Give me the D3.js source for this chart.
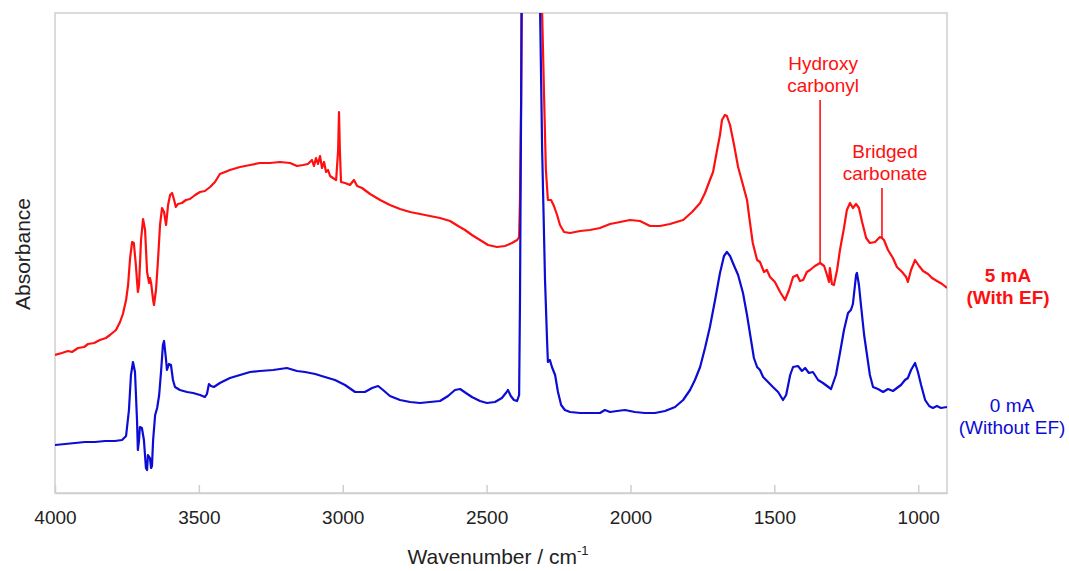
<!DOCTYPE html>
<html>
<head>
<meta charset="utf-8">
<script src="https://cdn.jsdelivr.net/npm/d3@7"></script>
<style>
  html, body { margin: 0; padding: 0; background: #fff; }
  svg { display: block; font-family: "Liberation Sans", Arial, Helvetica, sans-serif; }
</style>
</head>
<body>
<svg id="chart" width="1069" height="571"></svg>
<script>
// FTIR spectra: wavenumber (cm-1) and absorbance (offset, arbitrary units)
const withEfWavenumber = [
  4000, 3976, 3955, 3941, 3920, 3899, 3885, 3864, 3844, 3823, 3809, 3788, 3774, 3764, 3753, 3746,
  3739, 3732, 3726, 3719, 3712, 3708, 3701, 3694, 3687, 3680, 3673, 3670, 3666, 3659, 3656, 3649,
  3642, 3635, 3628, 3621, 3614, 3607, 3600, 3593, 3586, 3580, 3573, 3559, 3545, 3531, 3513, 3496,
  3479, 3461, 3444, 3427, 3409, 3392, 3357, 3322, 3288, 3253, 3218, 3183, 3159, 3138, 3121, 3107,
  3100, 3093, 3086, 3079, 3072, 3065, 3058, 3051, 3044, 3034, 3023, 3016, 3013, 3010, 3006, 2992,
  2975, 2961, 2950, 2933, 2905, 2870, 2836, 2801, 2766, 2731, 2697, 2662, 2627, 2599, 2575, 2551,
  2523, 2495, 2464, 2436, 2412, 2394, 2387, 2384, 2380, 2377, 2373, 2356, 2346, 2332, 2318, 2311,
  2307, 2300, 2294, 2287, 2276, 2266, 2255, 2245, 2231, 2210, 2175, 2141, 2106, 2071, 2036, 2002,
  1967, 1932, 1897, 1863, 1817, 1786, 1758, 1741, 1724, 1713, 1699, 1689, 1682, 1672, 1665, 1654,
  1640, 1626, 1609, 1595, 1585, 1575, 1560, 1550, 1536, 1526, 1515, 1498, 1480, 1463, 1449, 1435,
  1421, 1411, 1400, 1387, 1376, 1359, 1341, 1327, 1317, 1310, 1307, 1300, 1293, 1282, 1272, 1258,
  1248, 1237, 1227, 1216, 1206, 1195, 1181, 1168, 1150, 1133, 1126, 1119, 1105, 1088, 1074, 1056,
  1042, 1036, 1025, 1011, 997, 983, 966, 952, 935, 917, 900
];
const withEfAbsorbance = [
  1.38, 1.40, 1.42, 1.41, 1.45, 1.46, 1.49, 1.50, 1.53, 1.55, 1.58, 1.63, 1.71, 1.79, 1.93, 2.08,
  2.35, 2.51, 2.50, 2.28, 2.01, 2.08, 2.53, 2.74, 2.63, 2.21, 2.10, 2.15, 2.10, 1.93, 1.88, 2.03,
  2.33, 2.68, 2.85, 2.81, 2.68, 2.88, 2.98, 3.00, 2.93, 2.86, 2.89, 2.90, 2.93, 2.94, 2.98, 3.01,
  3.02, 3.06, 3.11, 3.19, 3.21, 3.23, 3.26, 3.28, 3.30, 3.30, 3.31, 3.30, 3.27, 3.28, 3.29, 3.33,
  3.27, 3.35, 3.29, 3.37, 3.25, 3.31, 3.21, 3.23, 3.17, 3.15, 3.13, 3.43, 3.81, 3.43, 3.11, 3.10,
  3.08, 3.13, 3.07, 3.05, 2.99, 2.93, 2.88, 2.84, 2.81, 2.79, 2.77, 2.75, 2.72, 2.67, 2.63, 2.58,
  2.53, 2.48, 2.46, 2.47, 2.50, 2.53, 2.56, 2.93, 3.93, 5.93, 6.50, 7.00, 6.00, 7.00, 6.50, 5.00,
  4.80, 3.93, 3.23, 2.93, 2.93, 2.87, 2.78, 2.68, 2.61, 2.60, 2.62, 2.63, 2.65, 2.69, 2.71, 2.73,
  2.72, 2.67, 2.67, 2.69, 2.73, 2.81, 2.90, 3.00, 3.13, 3.21, 3.43, 3.58, 3.73, 3.78, 3.77, 3.68,
  3.48, 3.26, 3.08, 2.93, 2.71, 2.50, 2.33, 2.31, 2.21, 2.23, 2.16, 2.11, 2.01, 1.93, 2.03, 2.16,
  2.18, 2.12, 2.13, 2.21, 2.23, 2.27, 2.30, 2.27, 2.18, 2.11, 2.25, 2.09, 2.08, 2.23, 2.43, 2.65,
  2.83, 2.90, 2.85, 2.89, 2.85, 2.71, 2.55, 2.50, 2.51, 2.56, 2.55, 2.53, 2.43, 2.35, 2.26, 2.21,
  2.16, 2.11, 2.23, 2.33, 2.27, 2.22, 2.19, 2.15, 2.12, 2.09, 2.05
];

const withoutEfWavenumber = [
  4000, 3965, 3930, 3896, 3861, 3826, 3792, 3767, 3753, 3743, 3736, 3729, 3722, 3715, 3712, 3708,
  3705, 3698, 3691, 3684, 3680, 3677, 3670, 3666, 3663, 3659, 3652, 3645, 3638, 3631, 3625, 3621,
  3614, 3611, 3604, 3597, 3590, 3583, 3566, 3541, 3520, 3496, 3479, 3472, 3465, 3458, 3448, 3427,
  3392, 3357, 3322, 3288, 3242, 3194, 3159, 3131, 3096, 3062, 3027, 2992, 2957, 2923, 2898, 2877,
  2860, 2836, 2801, 2766, 2731, 2697, 2662, 2634, 2610, 2592, 2572, 2551, 2523, 2499, 2471, 2447,
  2433, 2426, 2416, 2405, 2394, 2387, 2384, 2380, 2377, 2373, 2356, 2346, 2332, 2318, 2314, 2307,
  2297, 2290, 2287, 2280, 2273, 2262, 2252, 2241, 2228, 2210, 2175, 2141, 2106, 2089, 2071, 2047,
  2019, 1985, 1950, 1915, 1880, 1845, 1817, 1793, 1776, 1758, 1741, 1724, 1706, 1689, 1675, 1665,
  1654, 1644, 1626, 1609, 1595, 1585, 1571, 1560, 1550, 1539, 1522, 1505, 1487, 1470, 1459, 1445,
  1435, 1418, 1404, 1393, 1380, 1366, 1348, 1331, 1317, 1303, 1286, 1272, 1258, 1244, 1234, 1227,
  1216, 1213, 1206, 1199, 1188, 1178, 1168, 1157, 1140, 1122, 1105, 1088, 1074, 1060, 1046, 1036,
  1025, 1011, 1001, 990, 976, 962, 949, 935, 921, 900
];
const withoutEfAbsorbance = [
  0.48, 0.49, 0.50, 0.51, 0.51, 0.52, 0.52, 0.53, 0.57, 0.83, 1.18, 1.31, 1.21, 0.73, 0.43, 0.53,
  0.66, 0.65, 0.53, 0.25, 0.23, 0.38, 0.35, 0.25, 0.27, 0.53, 0.78, 0.85, 0.98, 1.23, 1.48, 1.52,
  1.33, 1.23, 1.29, 1.28, 1.13, 1.06, 1.03, 1.01, 1.00, 0.98, 0.96, 0.99, 1.09, 1.07, 1.06, 1.10,
  1.15, 1.18, 1.21, 1.22, 1.23, 1.25, 1.22, 1.21, 1.19, 1.16, 1.13, 1.08, 1.01, 1.01, 1.05, 1.07,
  1.03, 0.97, 0.93, 0.91, 0.90, 0.91, 0.92, 0.97, 1.03, 1.04, 1.00, 0.96, 0.92, 0.90, 0.91, 0.95,
  1.00, 1.03, 0.97, 0.93, 0.92, 0.98, 1.93, 3.93, 5.43, 6.00, 7.00, 6.00, 7.00, 6.00, 4.80, 3.43,
  2.13, 1.53, 1.31, 1.33, 1.26, 1.18, 1.01, 0.88, 0.83, 0.81, 0.80, 0.80, 0.80, 0.83, 0.81, 0.82,
  0.83, 0.81, 0.80, 0.80, 0.82, 0.86, 0.93, 1.03, 1.13, 1.26, 1.45, 1.66, 1.93, 2.20, 2.37, 2.41,
  2.37, 2.30, 2.18, 2.00, 1.78, 1.60, 1.35, 1.26, 1.23, 1.16, 1.11, 1.06, 1.01, 0.93, 0.98, 1.18,
  1.26, 1.27, 1.22, 1.25, 1.20, 1.21, 1.13, 1.10, 1.07, 1.04, 1.18, 1.40, 1.63, 1.80, 1.83, 1.89,
  2.18, 2.20, 2.08, 1.88, 1.58, 1.38, 1.18, 1.06, 1.04, 1.01, 1.04, 1.02, 1.05, 1.08, 1.13, 1.15,
  1.23, 1.30, 1.21, 1.08, 0.93, 0.87, 0.85, 0.87, 0.85, 0.86
];

const xTickValues = [4000, 3500, 3000, 2500, 2000, 1500, 1000];

// Band assignments marked on the 5 mA spectrum
const bandNames = [["Hydroxy", "carbonyl"], ["Bridged", "carbonate"]];
const bandWavenumbers = [1341, 1126];
const bandLabelTops = [3.93, 3.05];

const seriesNames = [["5 mA", "(With EF)"], ["0 mA", "(Without EF)"]];

// ---- layout ----
const svg = d3.select("#chart");
const margin = { left: 55, right: 947, top: 13, bottom: 493 };
const RED = "#ff1010";
const BLUE = "#0c0cd4";

const x = d3.scaleLinear().domain([4000, 900]).range([margin.left, margin.right]);
const y = d3.scaleLinear().domain([0, 4.8]).range([margin.bottom, margin.top]);

svg.append("defs").append("clipPath").attr("id", "plot-clip")
  .append("rect")
  .attr("x", margin.left).attr("y", margin.top)
  .attr("width", margin.right - margin.left).attr("height", margin.bottom - margin.top);

// frame
svg.append("rect")
  .attr("x", margin.left).attr("y", margin.top)
  .attr("width", margin.right - margin.left).attr("height", margin.bottom - margin.top)
  .attr("fill", "none").attr("stroke", "#cfcfcf").attr("stroke-width", 1.5);

// x axis with inward ticks
const xAxis = d3.axisBottom(x).tickValues(xTickValues).tickSizeInner(-8).tickSizeOuter(0)
  .tickPadding(18).tickFormat(d3.format("d"));
const gx = svg.append("g").attr("transform", `translate(0,${margin.bottom})`).call(xAxis);
gx.select(".domain").attr("stroke", "#cfcfcf").attr("stroke-width", 1.5);
gx.selectAll(".tick line").attr("stroke", "#cfcfcf").attr("stroke-width", 1.5);
gx.selectAll(".tick text")
  .attr("font-size", 19).attr("fill", "#222").attr("font-family", "Liberation Sans, Arial, sans-serif");

// axis titles
const xt = svg.append("text")
  .attr("x", 498).attr("y", 564)
  .attr("text-anchor", "middle").attr("font-size", 21).attr("fill", "#222");
xt.append("tspan").text("Wavenumber / cm");
xt.append("tspan").attr("dy", -9).attr("font-size", 13).text("-1");

svg.append("text")
  .attr("transform", "translate(30,254) rotate(-90)")
  .attr("text-anchor", "middle").attr("font-size", 21).attr("fill", "#222")
  .text("Absorbance");

// spectra
const line = d3.line().x(d => x(d[0])).y(d => y(d[1]));
const plot = svg.append("g").attr("clip-path", "url(#plot-clip)");

plot.append("path")
  .datum(d3.zip(withEfWavenumber, withEfAbsorbance))
  .attr("d", line).attr("fill", "none")
  .attr("stroke", RED).attr("stroke-width", 2.2).attr("stroke-linejoin", "round");

plot.append("path")
  .datum(d3.zip(withoutEfWavenumber, withoutEfAbsorbance))
  .attr("d", line).attr("fill", "none")
  .attr("stroke", BLUE).attr("stroke-width", 2.2).attr("stroke-linejoin", "round");

// band markers: vertical line from label down to the 5 mA trace
const redAt = d3.scaleLinear()
  .domain(withEfWavenumber.slice().reverse())
  .range(withEfAbsorbance.slice().reverse());

bandWavenumbers.forEach((wn, i) => {
  const xm = x(wn);
  svg.append("line")
    .attr("x1", xm).attr("x2", xm)
    .attr("y1", y(bandLabelTops[i])).attr("y2", y(redAt(wn)))
    .attr("stroke", RED).attr("stroke-width", 1.6);
  const t = svg.append("text")
    .attr("text-anchor", "middle").attr("font-size", 19).attr("fill", RED);
  bandNames[i].forEach((s, k) => {
    t.append("tspan")
      .attr("x", xm + 3)
      .attr("y", y(bandLabelTops[i]) - 30 + k * 22)
      .text(s);
  });
});

// series labels at the right
const seriesLabelX = [1008, 1012];
const seriesLabelY = [282, 412];
const seriesColor = [RED, BLUE];
const seriesWeight = ["bold", "normal"];
seriesNames.forEach((lines, i) => {
  const t = svg.append("text")
    .attr("text-anchor", "middle").attr("font-size", 19)
    .attr("font-weight", seriesWeight[i]).attr("fill", seriesColor[i]);
  lines.forEach((s, k) => {
    t.append("tspan").attr("x", seriesLabelX[i]).attr("y", seriesLabelY[i] + k * 22).text(s);
  });
});
</script>
</body>
</html>
